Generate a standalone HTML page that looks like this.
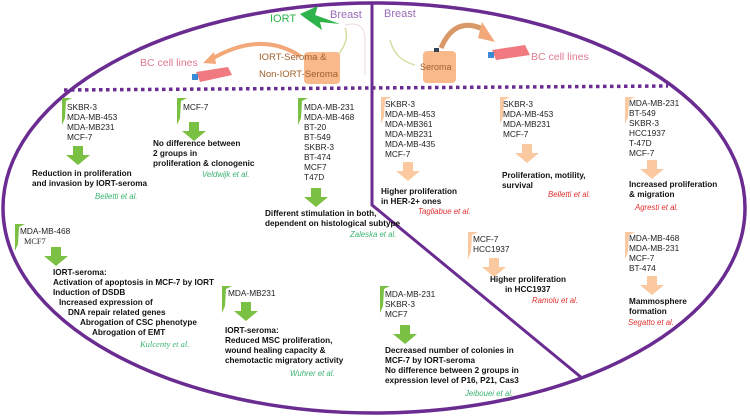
<!DOCTYPE html>
<html><head><meta charset="utf-8"><style>
html,body{margin:0;padding:0;background:#fff;}
svg{display:block}
text{font-family:"Liberation Sans",sans-serif;font-size:8.3px;fill:#222}
.b{font-weight:bold;font-size:8.2px;fill:#111}
.g{fill:#3ab371;font-style:italic;font-size:7.8px}
.r{fill:#e03030;font-style:italic;font-size:7.8px}
.s{font-family:"Liberation Serif",serif}
</style></head><body>
<svg width="750" height="417" viewBox="0 0 750 417" xmlns="http://www.w3.org/2000/svg">
<defs>
<g id="ga"><polygon points="-5,0 5,0 5,9 12,9 0,19 -12,9 -5,9" fill="#7ac143"/></g>
<g id="oa"><polygon points="-5,0 5,0 5,9 12,9 0,19 -12,9 -5,9" fill="#fbc9a0"/></g>
<g id="gf"><polygon points="0,0 10,0 4,3 3,20 0,27" fill="#7ac143"/></g>
<g id="of"><polygon points="0,0 10,0 4,3 3,20 0,27" fill="#fbc9a0"/></g>
</defs>
<ellipse cx="374" cy="208" rx="371" ry="205" fill="none" stroke="#6a2c91" stroke-width="3.5"/>
<polyline points="372,4 372,205 582,378" fill="none" stroke="#6a2c91" stroke-width="3"/>
<line x1="64" y1="90" x2="668" y2="86" stroke="#6a2c91" stroke-width="3.5" stroke-dasharray="3.5,3.5"/>

<!-- top left illustration -->
<polygon points="300,14 318,6 315,15 340,24 320,22 322,30 305,18" fill="#2db34a"/>
<path d="M345,25 Q365,20 365,40 L365,75" fill="none" stroke="#e8d8dc" stroke-width="1"/>
<path d="M345,28 Q350,40 338,55 L330,80" fill="none" stroke="#d8dca0" stroke-width="1.5"/>
<text x="270" y="22" style="font-size:11px;fill:#2db34a">IORT</text>
<text x="330" y="18" style="font-size:11px;fill:#9b6bb8">Breast</text>
<path d="M300,56 Q260,30 210,60" fill="none" stroke="#f2a878" stroke-width="4"/>
<polygon points="203,63 214,52 216,64" fill="#f2a878"/>
<text x="140" y="66" style="font-size:10.5px;fill:#e07a90">BC cell lines</text>
<polygon points="196,72 228,67 232,75 200,82" fill="#f07a80"/>
<rect x="192" y="74" width="6" height="6" fill="#3a8ad8"/>
<rect x="304" y="52" width="36" height="32" rx="4" fill="#f9b98a"/>
<text x="259" y="60" style="font-size:9.5px;fill:#a0602a">IORT-Seroma &amp;</text>
<text x="259" y="77" style="font-size:9.5px;fill:#a0602a">Non-IORT-Seroma</text>

<!-- top right illustration -->
<text x="384" y="17" style="font-size:11px;fill:#9b6bb8">Breast</text>
<path d="M390,40 Q395,60 415,65" fill="none" stroke="#d8dca0" stroke-width="1.5"/>
<rect x="423" y="51" width="33" height="32" rx="4" fill="#f9b98a"/>
<rect x="434" y="48" width="5" height="4" fill="#345"/>
<text x="420" y="70" style="font-size:9px;fill:#a0602a">Seroma</text>
<path d="M441,48 Q455,15 485,30" fill="none" stroke="#d89868" stroke-width="5"/>
<polygon points="482,22 495,42 478,38" fill="#f2a878"/>
<polygon points="492,50 525,45 530,55 496,60" fill="#f07a80"/>
<rect x="488" y="52" width="6" height="6" fill="#3a8ad8"/>
<text x="531" y="60" style="font-size:10.5px;fill:#e07a90">BC cell lines</text>

<!-- Group 1 -->
<use href="#gf" x="62" y="98"/>
<text x="67" y="110">SKBR-3</text><text x="67" y="120">MDA-MB-453</text><text x="67" y="130">MDA-MB231</text><text x="67" y="140">MCF-7</text>
<use href="#ga" x="78" y="146"/>
<text class="b" x="32" y="176">Reduction in proliferation</text>
<text class="b" x="32" y="186">and invasion by IORT-seroma</text>
<text class="g" x="95" y="199">Belletti et al.</text>
<!-- Group 2 -->
<use href="#gf" x="177" y="98"/>
<text x="183" y="110">MCF-7</text>
<use href="#ga" x="194" y="122"/>
<text class="b" x="153" y="146">No difference between</text>
<text class="b" x="153" y="156">2 groups in</text>
<text class="b" x="153" y="166">proliferation &amp; clonogenic</text>
<text class="g" x="202" y="177">Veldwijk et al.</text>
<!-- Group 3 -->
<use href="#gf" x="298" y="98"/>
<text x="304" y="110">MDA-MB-231</text><text x="304" y="120">MDA-MB-468</text><text x="304" y="130">BT-20</text><text x="304" y="140">BT-549</text><text x="304" y="150">SKBR-3</text><text x="304" y="160">BT-474</text><text x="304" y="170">MCF7</text><text x="304" y="180">T47D</text>
<use href="#ga" x="316" y="188"/>
<text class="b" x="265" y="216">Different stimulation in both,</text>
<text class="b" x="265" y="226">dependent on histological  subtype</text>
<text class="g" x="350" y="237">Zaleska et al.</text>
<!-- Group 4 -->
<use href="#gf" x="15" y="224"/>
<text x="20" y="234">MDA-MB-468</text><text class="s" x="24" y="244">MCF7</text>
<use href="#ga" x="56" y="247"/>
<text class="b" x="53" y="275">IORT-seroma:</text>
<text class="b" x="53" y="285">Activation of apoptosis in MCF-7 by IORT</text>
<text class="b" x="53" y="295">Induction of DSDB</text>
<text class="b" x="59" y="305">Increased expression of</text>
<text class="b" x="68" y="315">DNA repair related genes</text>
<text class="b" x="80" y="325">Abrogation of CSC phenotype</text>
<text class="b" x="92" y="335">Abrogation of EMT</text>
<text class="g s" x="140" y="347" style="font-size:8.5px">Kulcenty <tspan font-style="italic">et al.</tspan></text>
<!-- Group 5 -->
<use href="#gf" x="222" y="286"/>
<text x="228" y="296">MDA-MB231</text>
<use href="#ga" x="246" y="302"/>
<text class="b" x="225" y="333">IORT-seroma:</text>
<text class="b" x="225" y="343">Reduced MSC proliferation,</text>
<text class="b" x="225" y="353">wound healing capacity &amp;</text>
<text class="b" x="225" y="363">chemotactic migratory activity</text>
<text class="g" x="290" y="376">Wuhrer et al.</text>
<!-- Group 6 -->
<use href="#gf" x="380" y="286"/>
<text x="385" y="297">MDA-MB-231</text><text x="385" y="307">SKBR-3</text><text x="385" y="317">MCF7</text>
<use href="#ga" x="405" y="325"/>
<text class="b" x="385" y="353">Decreased number of colonies in</text>
<text class="b" x="385" y="363">MCF-7  by IORT-seroma</text>
<text class="b" x="385" y="373">No difference between 2 groups in</text>
<text class="b" x="385" y="383">expression level of P16, P21, Cas3</text>
<text class="g" x="465" y="396">Jeibouei et al.</text>
<!-- Group 7 -->
<use href="#of" x="381" y="97"/>
<text x="385" y="107">SKBR-3</text><text x="385" y="117">MDA-MB-453</text><text x="385" y="127">MDA-MB361</text><text x="385" y="137">MDA-MB231</text><text x="385" y="147">MDA-MB-435</text><text x="385" y="157">MCF-7</text>
<use href="#oa" x="408" y="162"/>
<text class="b" x="381" y="194">Higher proliferation</text>
<text class="b" x="381" y="204">in HER-2+ ones</text>
<text class="r" x="418" y="214">Tagliabue et al.</text>
<!-- Group 8 -->
<use href="#of" x="500" y="97"/>
<text x="503" y="107">SKBR-3</text><text x="503" y="117">MDA-MB-453</text><text x="503" y="127">MDA-MB231</text><text x="503" y="137">MCF-7</text>
<use href="#oa" x="527" y="144"/>
<text class="b" x="502" y="178">Proliferation, motility,</text>
<text class="b" x="502" y="188">survival</text>
<text class="r" x="548" y="197">Belletti et al.</text>
<!-- Group 9 -->
<use href="#of" x="625" y="97"/>
<text x="629" y="106">MDA-MB-231</text><text x="629" y="116">BT-549</text><text x="629" y="126">SKBR-3</text><text x="629" y="136">HCC1937</text><text x="629" y="146">T-47D</text><text x="629" y="156">MCF-7</text>
<use href="#oa" x="652" y="160"/>
<text class="b" x="629" y="187">Increased proliferation</text>
<text class="b" x="629" y="197">&amp; migration</text>
<text class="r" x="635" y="210">Agresti et al.</text>
<!-- Group 10 -->
<use href="#of" x="468" y="232"/>
<text x="473" y="242">MCF-7</text><text x="473" y="252">HCC1937</text>
<use href="#oa" x="494" y="258"/>
<text class="b" x="490" y="282">Higher proliferation</text>
<text class="b" x="505" y="292">in HCC1937</text>
<text class="r" x="532" y="303">Ramolu et al.</text>
<!-- Group 11 -->
<use href="#of" x="625" y="232"/>
<text x="629" y="241">MDA-MB-468</text><text x="629" y="251">MDA-MB-231</text><text x="629" y="261">MCF-7</text><text x="629" y="271">BT-474</text>
<use href="#oa" x="652" y="276"/>
<text class="b" x="629" y="304">Mammosphere</text>
<text class="b" x="629" y="314">formation</text>
<text class="r" x="628" y="325">Segatto et al.</text>
</svg>
</body></html>
